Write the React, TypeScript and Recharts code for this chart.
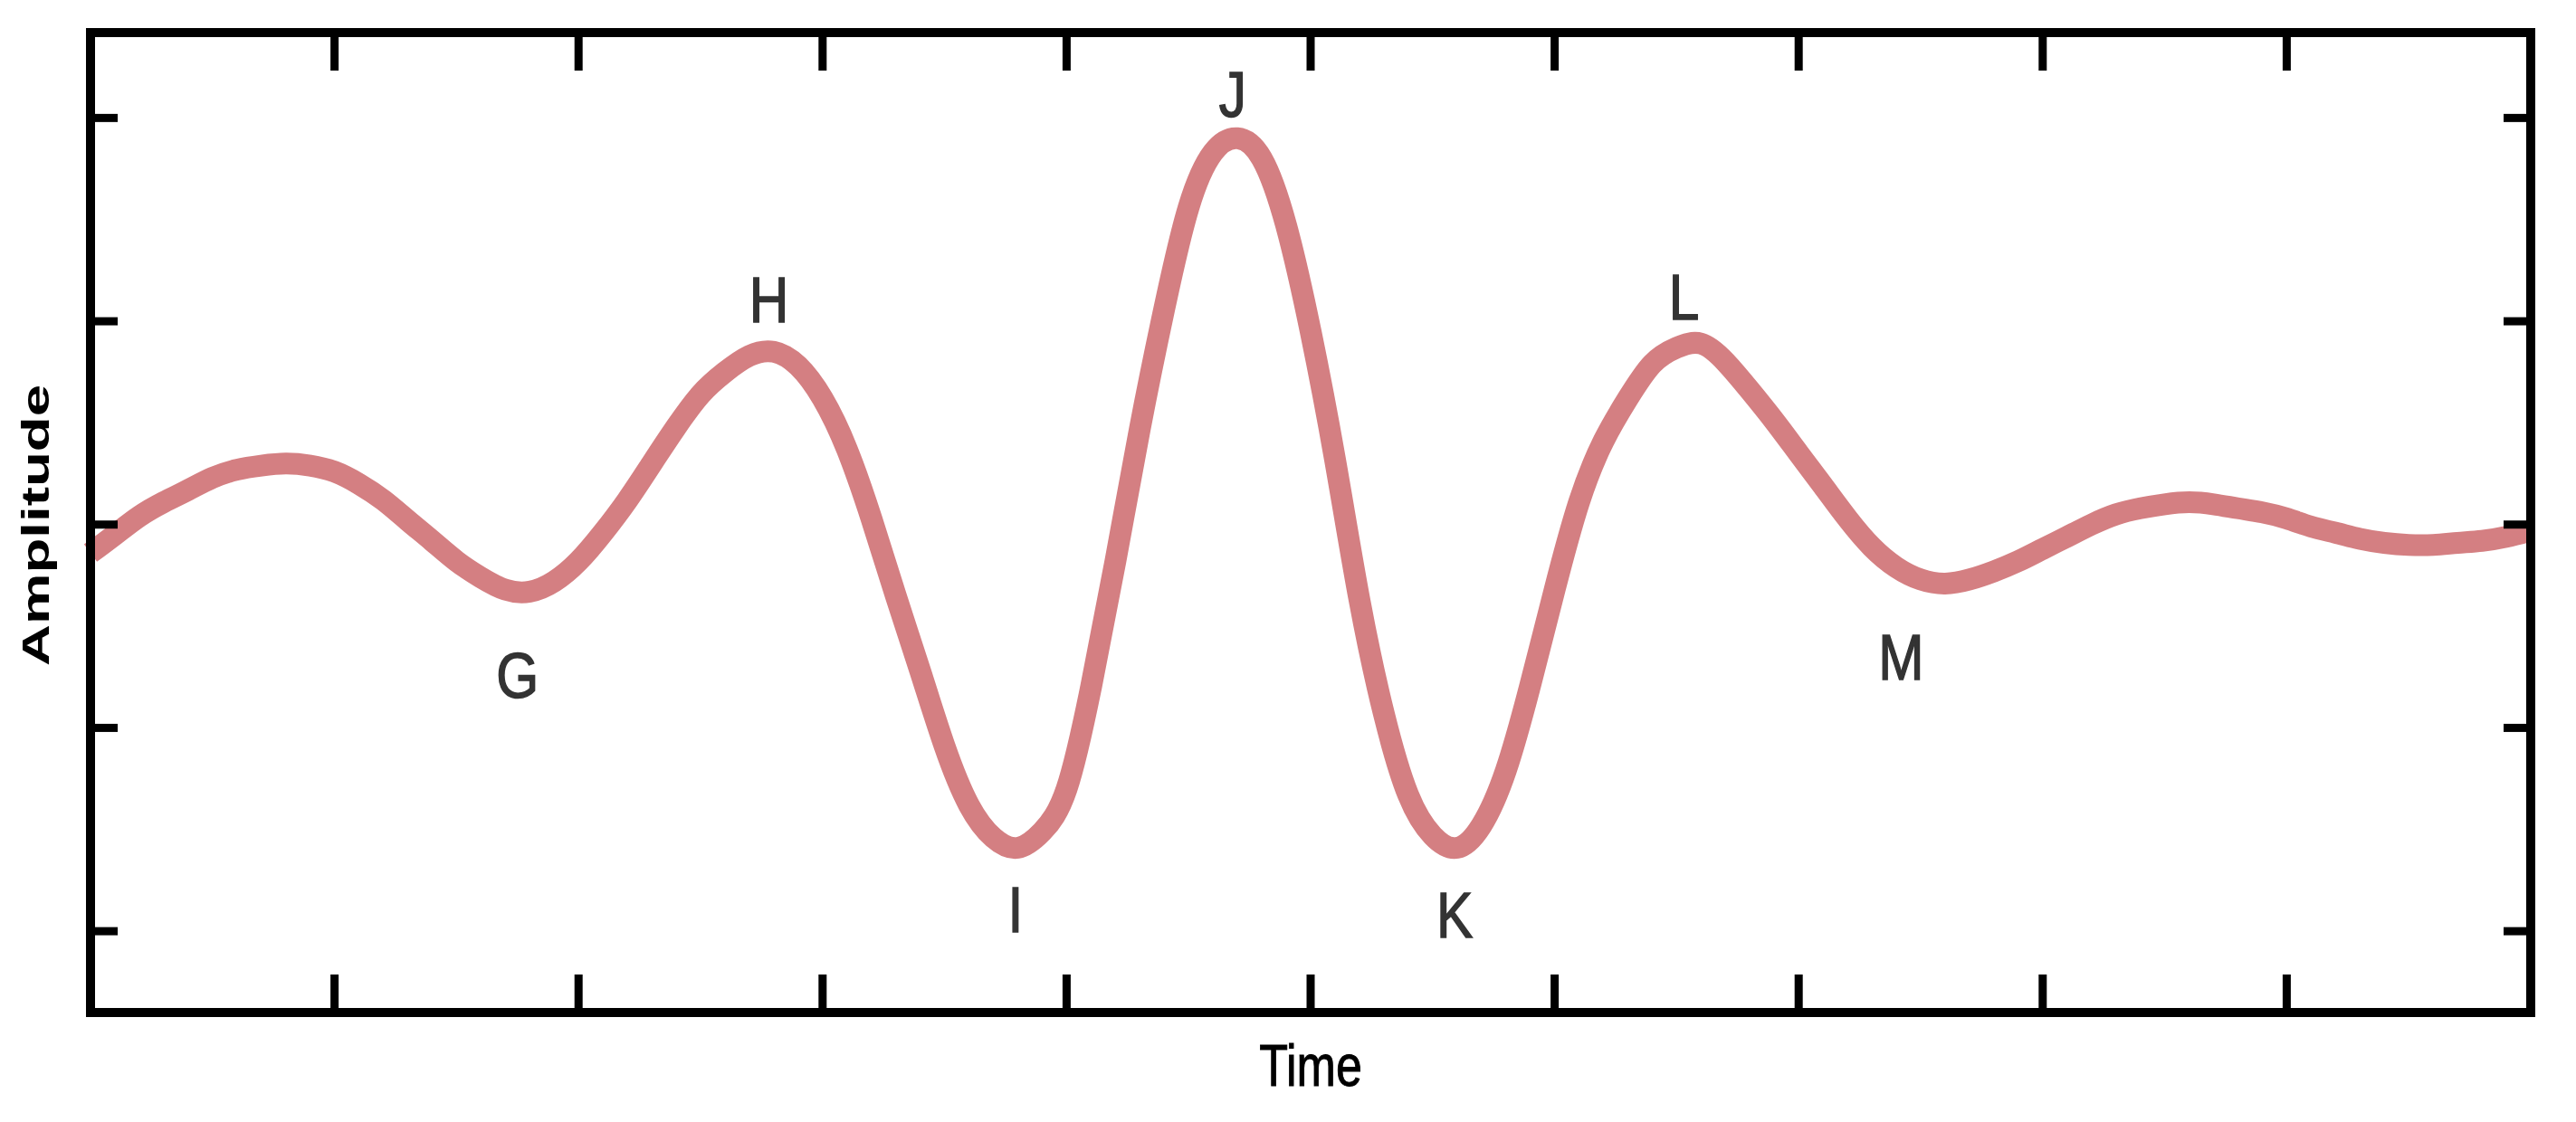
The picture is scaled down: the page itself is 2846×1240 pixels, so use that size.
import {
  ComposedChart,
  Line,
  Scatter,
  XAxis,
  YAxis,
} from "recharts";

// wavelet trace, every 0.1 time units
const timeValues = [
  0.0, 0.1, 0.2, 0.3, 0.4, 0.5, 0.6, 0.7, 0.8, 0.9, 1.0, 1.1, 1.2, 1.3, 1.4,
  1.5, 1.6, 1.7, 1.8, 1.9, 2.0, 2.1, 2.2, 2.3, 2.4, 2.5, 2.6, 2.7, 2.8, 2.9,
  3.0, 3.1, 3.2, 3.3, 3.4, 3.5, 3.6, 3.7, 3.8, 3.9, 4.0, 4.1, 4.2, 4.3, 4.4,
  4.5, 4.6, 4.7, 4.8, 4.9, 5.0, 5.1, 5.2, 5.3, 5.4, 5.5, 5.6, 5.7, 5.8, 5.9,
  6.0, 6.1, 6.2, 6.3, 6.4, 6.5, 6.6, 6.7, 6.8, 6.9, 7.0, 7.1, 7.2, 7.3, 7.4,
  7.5, 7.6, 7.7, 7.8, 7.9, 8.0, 8.1, 8.2, 8.3, 8.4, 8.5, 8.6, 8.7, 8.8, 8.9,
  9.0, 9.1, 9.2, 9.3, 9.4, 9.5, 9.6, 9.7, 9.8, 9.9, 10.0,
];
const amplitudeValues = [
  -0.14, -0.05, 0.04, 0.11, 0.17, 0.23, 0.27, 0.29, 0.3, 0.29, 0.26, 0.2,
  0.12, 0.02, -0.08, -0.18, -0.26, -0.32, -0.33, -0.28, -0.18, -0.04, 0.12,
  0.3, 0.48, 0.64, 0.75, 0.83, 0.85, 0.78, 0.62, 0.37, 0.03, -0.35, -0.72,
  -1.09, -1.38, -1.54, -1.59, -1.51, -1.3, -0.8, -0.18, 0.47, 1.06, 1.56,
  1.83, 1.9, 1.8, 1.47, 0.95, 0.32, -0.37, -0.93, -1.33, -1.53, -1.59, -1.48,
  -1.21, -0.79, -0.32, 0.11, 0.41, 0.62, 0.79, 0.87, 0.89, 0.8, 0.66, 0.51,
  0.35, 0.19, 0.03, -0.11, -0.21, -0.27, -0.29, -0.27, -0.23, -0.18, -0.12,
  -0.06, 0.0, 0.05, 0.08, 0.1, 0.11, 0.1, 0.08, 0.06, 0.03, -0.01, -0.04,
  -0.07, -0.09, -0.1, -0.1, -0.09, -0.08, -0.06, -0.03,
];

// peak / trough letters
const peakNames = ["G", "H", "I", "J", "K", "L", "M"];
const peakLabelX = [1.75, 2.78, 3.79, 4.68, 5.59, 6.53, 7.42];
const peakLabelY = [-0.75, 1.1, -1.9, 2.11, -1.93, 1.11, -0.66];

const timeTicks = [1, 2, 3, 4, 5, 6, 7, 8, 9];
const amplitudeTicks = [-2, -1, 0, 1, 2];
const timeDomain = [0, 10];
const amplitudeDomain = [-2.4, 2.42];

const wave = timeValues.map((t, i) => ({ t, amp: amplitudeValues[i] }));
const peaks = peakNames.map((name, i) => ({
  t: peakLabelX[i],
  amp: peakLabelY[i],
  name,
}));

const FONT = "Liberation Sans, Arial, Helvetica, sans-serif";
const NARROW = "Liberation Sans Narrow, Liberation Sans, Arial, sans-serif";
const axisLine = { stroke: "#000", strokeWidth: 10, strokeLinecap: "square" };
const tickLine = { stroke: "#000", strokeWidth: 9 };
const noLabel = () => <g />;

const PeakLetter = (props: any) => {
  const { cx, cy, payload } = props;
  if (cx == null || cy == null) return null;
  return (
    <text
      transform={`translate(${cx},${cy + 23}) scale(0.85,1)`}
      textAnchor="middle"
      style={{ fontFamily: NARROW, fontSize: 71 }}
      fill="#333"
      stroke="#333"
      strokeWidth={1.5}
    >
      {payload.name}
    </text>
  );
};

const TimeTitle = (props: any) => {
  const vb = props.viewBox || {};
  const x = vb.x + vb.width / 2;
  const y = vb.y + 82;
  return (
    <text
      transform={`translate(${x},${y}) scale(0.8,1)`}
      textAnchor="middle"
      style={{ fontFamily: FONT, fontSize: 65 }}
      fill="#000"
      stroke="#000"
      strokeWidth={1}
    >
      Time
    </text>
  );
};

const AmplitudeTitle = (props: any) => {
  const vb = props.viewBox || {};
  const x = vb.x - 46;
  const y = vb.y + vb.height / 2 + 3;
  return (
    <text
      transform={`translate(${x},${y}) rotate(-90) scale(1.48,1)`}
      textAnchor="middle"
      style={{ fontFamily: FONT, fontSize: 43, fontWeight: "bold" }}
      fill="#000"
    >
      Amplitude
    </text>
  );
};

export default function App() {
  return (
    <div style={{ width: 2830, height: 1224, background: "#fff" }}>
      <ComposedChart
        width={2830}
        height={1224}
        margin={{ top: 28, right: 42, bottom: 113, left: 92 }}
      >
        <XAxis
          dataKey="t"
          type="number"
          domain={timeDomain}
          ticks={timeTicks}
          interval={0}
          height={1}
          mirror
          tick={noLabel}
          tickSize={42}
          axisLine={axisLine}
          tickLine={tickLine}
          label={(p: any) => <TimeTitle {...p} />}
        />
        <XAxis
          xAxisId="top"
          orientation="top"
          dataKey="t"
          type="number"
          domain={timeDomain}
          ticks={timeTicks}
          interval={0}
          height={1}
          mirror
          tick={noLabel}
          tickSize={42}
          axisLine={axisLine}
          tickLine={tickLine}
        />
        <YAxis
          type="number"
          domain={amplitudeDomain}
          ticks={amplitudeTicks}
          interval={0}
          width={1}
          mirror
          tick={noLabel}
          tickSize={30}
          axisLine={axisLine}
          tickLine={tickLine}
          label={(p: any) => <AmplitudeTitle {...p} />}
        />
        <YAxis
          yAxisId="right"
          orientation="right"
          type="number"
          domain={amplitudeDomain}
          ticks={amplitudeTicks}
          interval={0}
          width={1}
          mirror
          tick={noLabel}
          tickSize={30}
          axisLine={axisLine}
          tickLine={tickLine}
        />
        <Line
          data={wave}
          dataKey="amp"
          type="natural"
          stroke="#d47f82"
          strokeWidth={24}
          dot={false}
          activeDot={false}
          isAnimationActive={false}
        />
        <Scatter
          data={peaks}
          dataKey="amp"
          xAxisId="top"
          yAxisId="right"
          shape={<PeakLetter />}
          isAnimationActive={false}
        />
      </ComposedChart>
    </div>
  );
}
